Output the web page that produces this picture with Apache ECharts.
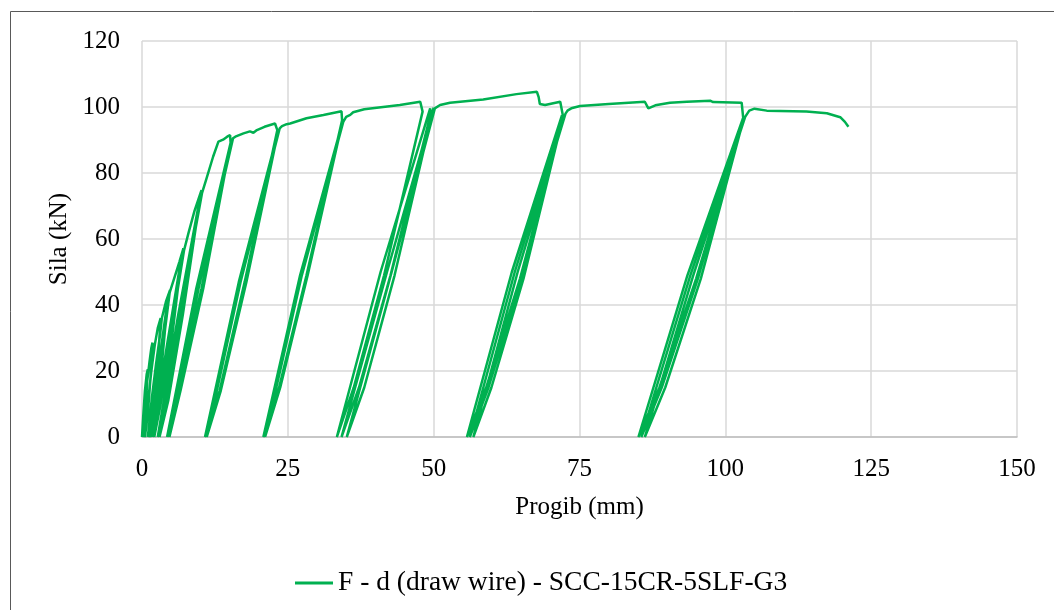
<!DOCTYPE html>
<html>
<head>
<meta charset="utf-8">
<script src="https://cdn.jsdelivr.net/npm/echarts@6/dist/echarts.min.js"></script>
<style>html,body{margin:0;padding:0;background:#fff;}#chart{width:1054px;height:610px;}</style>
</head>
<body>
<div id="chart"></div>
<script>
// Tick labels
const xTicks = [0, 25, 50, 75, 100, 125, 150];
const yTicks = [0, 20, 40, 60, 80, 100, 120];
const seriesName = 'F - d (draw wire) - SCC-15CR-5SLF-G3';

// Deflection (mm), in recording order
const deflection = [
  0, 0.2, 0.5, 0.8, 1.0, 0.8, 0.5, 0.2, 0.5, 0.9, 1.3, 1.6, 1.8, 1.5, 1.0, 0.5,
  1.0, 1.6, 2.2, 2.7, 3.2, 2.8, 2.0, 1.0, 1.7, 2.4, 3.1, 3.4, 4.1, 4.8,
  3.2, 1.9, 1.2, 2.9, 4.5, 3.4, 2.1, 1.4, 3.1, 4.7, 5.6, 6.4, 7.1,
  4.7, 2.9, 1.8, 4.3, 6.9, 5.0, 3.1, 2.1, 4.6, 7.2, 8.0, 9.0, 10.2,
  6.8, 4.2, 2.7, 6.2, 10.1, 7.0, 4.5, 3.0, 6.5, 10.3, 11.0, 12.2, 13.1, 13.9, 14.6, 15.1,
  15.2, 10.2, 6.3, 4.3, 9.3, 15.3, 10.5, 6.6, 4.7, 9.7, 15.6, 16.0,
  17.4, 18.5, 19.1, 19.7, 21.0, 22.8, 23.1,
  23.2, 17.6, 13.3, 10.8, 16.6, 23.4, 17.9, 13.5, 11.1, 16.9, 23.6, 24.0,
  24.8, 25.4, 28.2, 31.1, 34.2,
  34.3, 28.2, 23.5, 20.8, 27.1, 34.3, 28.4, 23.7, 21.1, 27.4, 34.5, 35.0,
  35.7, 36.2, 38.1, 44.2, 47.7, 47.9,
  48.1, 41.5, 36.3, 33.4, 40.9, 49.4, 49.5, 42.6, 37.2, 34.2, 42.0, 50.0,
  43.3, 38.1, 35.1, 42.8, 50.2, 51.1,
  52.8, 58.5, 64.2, 67.7, 68.0, 68.2, 69.1, 71.7, 72.0,
  72.2, 64.8, 59.0, 55.7, 63.4, 72.0, 65.1, 59.4, 56.2, 63.9, 72.3,
  65.4, 59.9, 56.8, 64.4, 72.6, 73.0, 73.6, 75.1,
  80.0, 86.2, 86.8, 88.0, 90.5, 93.4, 97.4, 97.9, 102.8,
  103.1, 95.0, 88.7, 85.1, 93.5, 103.0, 95.3, 89.1, 85.6, 94.0, 103.2,
  95.8, 89.7, 86.2, 94.5, 103.4, 104.1, 105.0,
  107.1, 113.9, 117.4, 119.7, 120.5, 121.1
];

// Force (kN), same order
const force = [
  0, 6, 14, 19, 20.5, 14, 5, 0, 9, 17, 23, 27, 28.6, 19, 7, 0,
  10, 20, 28, 33, 36, 25, 9, 0, 12, 22, 31, 36, 41, 44.5,
  22, 7, 0, 22, 43, 22, 7, 0, 22, 43.5, 48.5, 53, 57.2,
  28, 9, 0, 28, 56, 28, 9, 0, 28, 56.5, 62, 68.5, 74.8,
  37, 11, 0, 37, 74, 37, 11, 0, 37, 74, 78, 85, 89.5, 90.1, 91.0, 91.5,
  89, 45, 14, 0, 45, 90, 45, 14, 0, 45, 90.5, 91.0,
  92.0, 92.6, 92.2, 93.0, 94.0, 95.0, 95.3,
  93, 47, 14, 0, 47, 93, 47, 14, 0, 47, 93.5, 94.2,
  94.8, 95.0, 96.6, 97.6, 98.7,
  96, 49, 15, 0, 49, 95, 49, 15, 0, 49, 95.5, 97.0,
  97.6, 98.4, 99.3, 100.6, 101.6, 101.6,
  98.6, 49, 15, 0, 50, 99.6, 98, 49, 15, 0, 50, 99.8,
  49, 15, 0, 50, 99.6, 100.6,
  101.3, 102.3, 103.9, 104.6, 103, 100.9, 100.6, 101.6, 101,
  97, 48, 15, 0, 50, 97.5, 48, 15, 0, 50, 97.8,
  48, 15, 0, 50, 98, 99, 99.6, 100.3,
  100.9, 101.6, 99.6, 100.5, 101.3, 101.6, 101.9, 101.5, 101.3,
  96, 48, 15, 0, 49, 96.5, 48, 15, 0, 49, 96.8,
  48, 15, 0, 49, 97, 98.9, 99.5,
  98.9, 98.6, 98.1, 96.9, 95.5, 94
];

const points = deflection.map((d, i) => [d, force[i]]);

const font = 'Liberation Serif, Times New Roman, serif';
const chart = echarts.init(document.getElementById('chart'), null, {renderer: 'canvas'});
chart.setOption({
  animation: false,
  backgroundColor: '#fff',
  graphic: [{
    type: 'rect',
    shape: {x: 10.5, y: 11.5, width: 1100, height: 700},
    style: {fill: 'none', stroke: '#595959', lineWidth: 1},
    silent: true
  }],
  grid: {left: 142, right: 37, top: 41, bottom: 173},
  xAxis: {
    type: 'value', min: xTicks[0], max: xTicks[xTicks.length - 1], interval: 25,
    name: 'Progib (mm)', nameLocation: 'middle', nameGap: 58,
    nameTextStyle: {fontFamily: font, fontSize: 25, color: '#000'},
    axisLine: {show: true, lineStyle: {color: '#bfbfbf', width: 1.5}},
    axisTick: {show: false},
    axisLabel: {fontFamily: font, fontSize: 25, color: '#000', margin: 20},
    splitLine: {show: true, lineStyle: {color: '#d9d9d9', width: 1.5}}
  },
  yAxis: {
    type: 'value', min: yTicks[0], max: yTicks[yTicks.length - 1], interval: 20,
    name: 'Sila (kN)', nameLocation: 'middle', nameGap: 70, nameRotate: 90,
    nameTextStyle: {fontFamily: font, fontSize: 25, color: '#000'},
    axisLine: {show: false},
    axisTick: {show: false},
    axisLabel: {fontFamily: font, fontSize: 25, color: '#000', margin: 22},
    splitLine: {show: true, lineStyle: {color: '#d9d9d9', width: 1.5}}
  },
  legend: {
    left: 290, top: 564,
    icon: 'rect', itemWidth: 38, itemHeight: 3,
    textStyle: {fontFamily: font, fontSize: 27.5, color: '#000'},
    data: [seriesName]
  },
  series: [{
    name: seriesName,
    type: 'line',
    data: points,
    showSymbol: false,
    symbol: 'none',
    smooth: false,
    lineStyle: {color: '#00B050', width: 2.5},
    itemStyle: {color: '#00B050'}
  }]
});
</script>
</body>
</html>
